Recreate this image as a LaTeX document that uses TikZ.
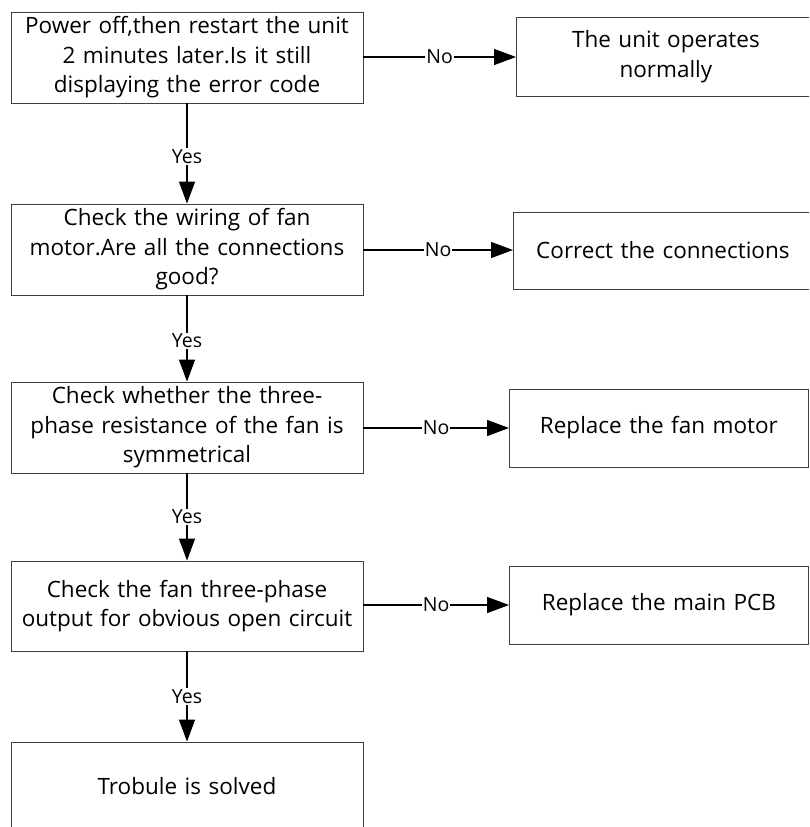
\documentclass[tikz,border=0pt]{standalone}
\usepackage{fontspec}
\setmainfont{Open Sans}
\usetikzlibrary{arrows.meta}
\begin{document}
\begin{tikzpicture}[x=1pt,y=-1pt,
  box/.style={draw=black!75,line width=0.8pt,align=center,inner sep=0pt,
    font=\fontsize{22.5}{29.5}\selectfont},
  lbox/.style={box,minimum width=352pt,minimum height=91pt,text width=350pt},
  rbox/.style={box,minimum width=299pt,text width=295pt},
  arr/.style={line width=1.3pt,-{Triangle[length=22pt,width=16pt]}},
  lab/.style={fill=white,inner sep=1pt,font=\fontsize{19.5}{20}\selectfont}]
\clip (0,0) rectangle (809,827);
\fill[white] (0,0) rectangle (809,827);
\node[lbox] (b1) at (187,57.5) {Power off,then restart the unit\\2 minutes later.Is it still\\displaying the error code};
\node[lbox] (b2) at (187,249.5) {Check the wiring of fan\\motor.Are all the connections\\good?};
\node[lbox] (b3) at (187,427.5) {Check whether the three-\\phase resistance of the fan is\\symmetrical};
\node[lbox,minimum height=90pt] (b4) at (187,606) {Check the fan three-phase\\output for obvious open circuit};
\node[lbox,minimum height=88pt] (b5) at (187,786) {Trobule is solved};
\node[rbox,minimum height=79pt,anchor=west] (r1) at (516,56.5) {The unit operates\\normally};
\node[rbox,minimum height=77pt,anchor=west] (r2) at (513,250.5) {Correct the connections};
\node[rbox,minimum height=78pt,anchor=west] (r3) at (509,428) {Replace the fan motor};
\node[rbox,minimum height=78pt,anchor=west] (r4) at (509,605) {Replace the main PCB};
\draw[arr] (b1.east |- 0,57) -- node[lab,pos=0.5] {No} (r1.west |- 0,57);
\draw[arr] (b2.east |- 0,250) -- node[lab,pos=0.5] {No} (r2.west |- 0,250);
\draw[arr] (b3.east |- 0,428) -- node[lab,pos=0.5] {No} (r3.west |- 0,428);
\draw[arr] (b4.east |- 0,605) -- node[lab,pos=0.5] {No} (r4.west |- 0,605);
\draw[arr] (b1) -- node[lab,pos=0.53] {Yes} (b2);
\draw[arr] (b2) -- node[lab,pos=0.53] {Yes} (b3);
\draw[arr] (b3) -- node[lab,pos=0.5] {Yes} (b4);
\draw[arr] (b4) -- node[lab,pos=0.5] {Yes} (b5);
\end{tikzpicture}
\end{document}
